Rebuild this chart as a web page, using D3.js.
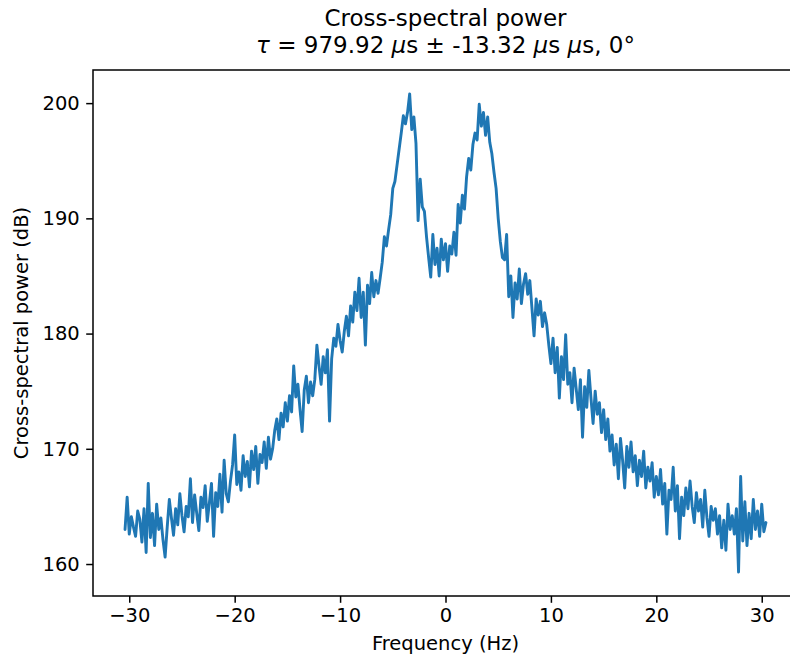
<!DOCTYPE html>
<html>
<head>
<meta charset="utf-8">
<script src="https://cdn.jsdelivr.net/npm/d3@7"></script>
<style>
  body { margin: 0; background: #fff; }
  svg { display: block; font-family: "DejaVu Sans", sans-serif; }
  .axis text { font-size: 19.5px; fill: #000; font-family: "DejaVu Sans", sans-serif; }
  .axis path, .axis line { stroke: #000; stroke-width: 1.5px; }
</style>
</head>
<body>
<div id="svg"></div>
<script>
// frequency bins: start and spacing (Hz)
var freqStart = -30.4;
var freqStep = 0.2;

// cross-spectral power (dB)
var power = [
  163.0, 165.8, 162.6, 164.1, 163.2, 162.4, 164.6, 163.9, 161.9, 164.8,
  161.0, 167.0, 162.3, 164.4, 161.6, 165.2, 163.0, 164.0, 162.1, 160.6,
  163.2, 165.6, 164.0, 162.5, 164.8, 163.4, 166.1, 164.2, 162.8, 165.0,
  164.1, 167.4, 163.6, 166.0, 164.4, 162.9, 165.8, 164.9, 166.8, 163.7,
  165.3, 167.0, 162.4, 166.2, 165.0, 167.8, 164.5, 169.0, 166.1, 165.4,
  167.2, 168.6, 171.2, 166.9, 168.0, 166.4, 169.4, 167.6, 168.9, 166.7,
  169.8, 168.2, 170.2, 167.0, 169.5, 168.8, 170.6, 168.3, 171.0, 169.1,
  170.0, 171.6, 172.6, 170.8, 173.1, 171.9, 174.0, 172.4, 174.6, 173.2,
  177.2, 174.5, 175.6, 173.4, 171.5, 175.1, 176.3, 174.0, 175.8, 174.6,
  176.0, 179.0, 177.2, 175.6, 178.0, 176.6, 178.6, 172.4, 177.8, 179.6,
  178.9, 180.8, 179.4, 178.4, 180.2, 181.5, 179.8, 182.4, 181.0, 183.6,
  182.0, 184.8, 181.4, 183.6, 179.0, 184.2, 182.6, 185.3, 183.2, 184.6,
  183.5, 184.8, 186.2, 188.4, 187.6, 189.0, 190.3, 192.6, 193.2, 194.6,
  196.0, 197.4, 198.9, 198.2, 199.2, 200.8, 197.7, 198.8, 196.5, 189.8,
  193.4, 191.0, 190.6, 188.4, 186.6, 184.9, 188.6, 186.0, 187.4, 185.0,
  188.2, 186.4, 187.8, 185.4, 187.6, 186.9, 188.8, 186.8, 191.2, 189.6,
  192.0, 190.8, 193.6, 195.2, 194.2, 196.4, 197.4, 196.8, 199.9, 198.0,
  199.2, 197.2, 198.8, 196.6, 195.6, 194.0, 192.6, 190.0, 188.0, 186.6,
  186.4, 188.6, 183.2, 185.0, 181.4, 184.4, 183.0, 185.6, 182.6, 184.3,
  185.2, 183.4, 184.6, 182.2, 179.8, 183.0, 181.6, 182.8, 180.6, 181.8,
  180.8, 179.0, 177.4, 179.6, 176.6, 178.8, 174.4, 178.0, 176.0, 179.9,
  175.6, 176.6, 174.0, 177.0, 175.2, 173.4, 176.0, 171.0, 175.4, 173.6,
  176.8, 174.4, 172.2, 175.0, 173.0, 174.0, 171.4, 173.4, 170.8, 172.6,
  169.8, 171.2, 168.6, 170.4, 167.4, 170.9, 169.0, 166.6, 170.2, 168.4,
  170.6, 168.0, 169.4, 166.8, 169.0, 167.6, 169.8, 166.6, 168.4, 167.2,
  168.8, 165.8, 167.6, 166.0, 168.2, 165.2, 167.0, 162.6, 166.4, 165.6,
  168.4, 164.6, 166.8, 162.2, 165.8, 164.2, 166.6, 164.8, 167.2, 165.0,
  163.6, 166.2, 164.6, 165.6, 163.2, 166.4, 164.0, 162.4, 165.0, 163.8,
  164.8, 162.6, 164.2, 161.4, 163.8, 161.2, 165.2, 163.0, 164.2, 162.6,
  164.8, 159.3, 167.6, 162.0, 165.4, 161.6, 164.4, 162.2, 165.6, 163.0,
  164.6, 162.4, 165.2, 162.8, 163.6
];

var xTicks = [-30, -20, -10, 0, 10, 20, 30];
var yTicks = [160, 170, 180, 190, 200];

var width = 790;
var height = 662;

// axes box (right spine falls just outside the picture)
var plotLeft = 93, plotRight = 798, plotTop = 70, plotBottom = 596;

var data = power.map(function(p, i) {
  return { freq: freqStart + i * freqStep, power: p };
});

// matplotlib style 5% margins round the data
var xExt = d3.extent(data, function(d) { return d.freq; });
var yExt = d3.extent(data, function(d) { return d.power; });
var xPad = (xExt[1] - xExt[0]) * 0.05;
var yPad = (yExt[1] - yExt[0]) * 0.05;

var x_axis = d3.scaleLinear()
  .domain([xExt[0] - xPad, xExt[1] + xPad])
  .range([plotLeft, plotRight]);

var y_axis = d3.scaleLinear()
  .domain([yExt[0] - yPad, yExt[1] + yPad])
  .range([plotBottom, plotTop]);

var svg = d3.select("#svg").append("svg")
  .attr("width", width)
  .attr("height", height);

var line = d3.line()
  .x(function(d) { return x_axis(d.freq); })
  .y(function(d) { return y_axis(d.power); });

svg.append("path")
  .datum(data)
  .attr("fill", "none")
  .attr("stroke", "#1f77b4")
  .attr("stroke-width", 2.9)
  .attr("stroke-linejoin", "round")
  .attr("stroke-linecap", "round")
  .attr("d", line);

// frame
svg.append("rect")
  .attr("x", plotLeft)
  .attr("y", plotTop)
  .attr("width", plotRight - plotLeft)
  .attr("height", plotBottom - plotTop)
  .attr("fill", "none")
  .attr("stroke", "#000")
  .attr("stroke-width", 1.5);

svg.append("g")
  .attr("class", "axis")
  .attr("transform", "translate(0," + plotBottom + ")")
  .call(d3.axisBottom(x_axis).tickValues(xTicks).tickSize(6.8).tickPadding(5).tickSizeOuter(0))
  .call(function(g) { g.select(".domain").remove(); });

svg.append("g")
  .attr("class", "axis")
  .attr("transform", "translate(" + plotLeft + ",0)")
  .call(d3.axisLeft(y_axis).tickValues(yTicks).tickSize(6.8).tickPadding(6.5).tickSizeOuter(0))
  .call(function(g) { g.select(".domain").remove(); });

var mid = (plotLeft + plotRight) / 2;

// title, two lines
svg.append("text")
  .attr("x", mid)
  .attr("y", 26)
  .attr("text-anchor", "middle")
  .attr("font-size", 23)
  .text("Cross-spectral power");

var sub = svg.append("text")
  .attr("x", mid)
  .attr("y", 53)
  .attr("text-anchor", "middle")
  .attr("font-size", 23);
sub.append("tspan").attr("font-style", "italic").text("τ");
sub.append("tspan").text(" = 979.92 ");
sub.append("tspan").attr("font-style", "italic").text("μ");
sub.append("tspan").text("s ± -13.32 ");
sub.append("tspan").attr("font-style", "italic").text("μ");
sub.append("tspan").text("s ");
sub.append("tspan").attr("font-style", "italic").text("μ");
sub.append("tspan").text("s, 0°");

svg.append("text")
  .attr("x", mid)
  .attr("y", 650)
  .attr("text-anchor", "middle")
  .attr("font-size", 19.5)
  .text("Frequency (Hz)");

svg.append("text")
  .attr("transform", "translate(28," + (plotTop + plotBottom) / 2 + ") rotate(-90)")
  .attr("text-anchor", "middle")
  .attr("font-size", 19.5)
  .text("Cross-spectral power (dB)");
</script>
</body>
</html>
